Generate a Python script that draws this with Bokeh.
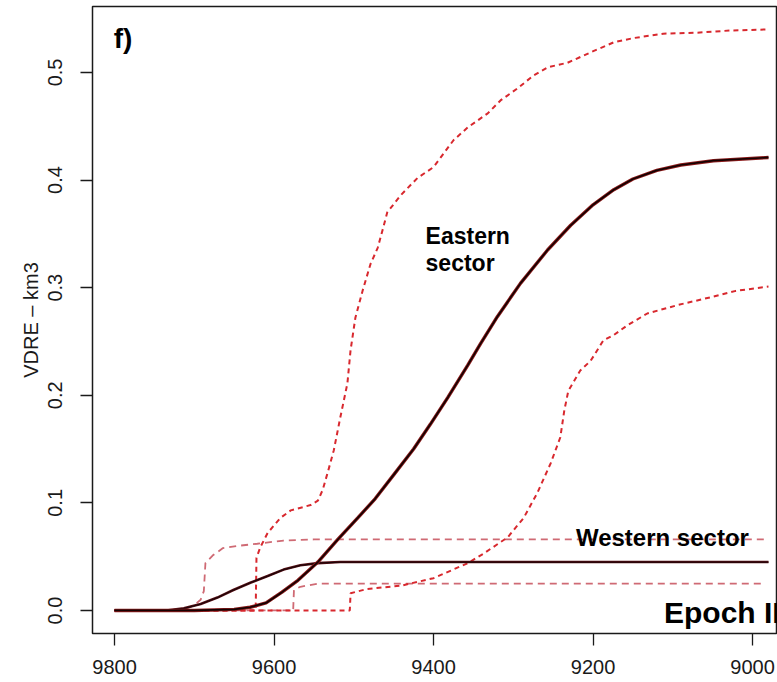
from bokeh.plotting import figure
from bokeh.models import Range1d, FixedTicker, Label, PrintfTickFormatter
from bokeh.embed import file_html
from bokeh.resources import INLINE

# ---- data ----
x_ticks = [9800, 9600, 9400, 9200, 9000]
y_ticks = [0.0, 0.1, 0.2, 0.3, 0.4, 0.5]

east_med_x = [9800, 9700, 9650, 9630, 9610, 9590, 9570, 9545, 9520, 9495, 9473, 9450,
              9425, 9404, 9382, 9357, 9341, 9320, 9291, 9257, 9228, 9200, 9174, 9150,
              9120, 9090, 9049, 8980]
east_med_y = [0.0, 0.0, 0.001, 0.003, 0.007, 0.017, 0.028, 0.045, 0.066, 0.086, 0.104, 0.126,
              0.150, 0.173, 0.198, 0.228, 0.248, 0.273, 0.304, 0.335, 0.358, 0.377, 0.391, 0.401,
              0.409, 0.414, 0.418, 0.421]

east_up_x = [9800, 9623, 9622, 9617, 9608, 9592, 9579, 9554, 9545, 9539, 9532, 9525, 9517,
             9508, 9504, 9498, 9489, 9479, 9470, 9463, 9458, 9441, 9420, 9400, 9375, 9357,
             9332, 9316, 9295, 9275, 9256, 9232, 9199, 9174, 9149, 9112, 9069, 9028, 8980]
east_up_y = [0.0, 0.0, 0.049, 0.059, 0.072, 0.086, 0.093, 0.098, 0.102, 0.112, 0.130, 0.149, 0.179,
             0.211, 0.242, 0.272, 0.297, 0.322, 0.337, 0.356, 0.370, 0.386, 0.402, 0.412, 0.437, 0.449,
             0.462, 0.474, 0.485, 0.497, 0.505, 0.509, 0.520, 0.528, 0.532, 0.536, 0.537, 0.539, 0.540]

east_lo_x = [9800, 9505, 9504, 9483, 9441, 9400, 9357, 9337, 9307, 9287, 9270, 9253, 9241,
             9236, 9231, 9216, 9203, 9187, 9174, 9157, 9132, 9093, 9053, 9021, 8980]
east_lo_y = [0.0, 0.0, 0.016, 0.020, 0.023, 0.030, 0.044, 0.053, 0.068, 0.086, 0.109, 0.137, 0.161,
             0.186, 0.204, 0.223, 0.232, 0.251, 0.256, 0.265, 0.276, 0.284, 0.291, 0.297, 0.301]

west_med_x = [9800, 9735, 9713, 9692, 9671, 9651, 9629, 9608, 9588, 9567, 9545, 9517, 8980]
west_med_y = [0.0, 0.0, 0.002, 0.006, 0.012, 0.019, 0.026, 0.032, 0.038, 0.042, 0.044, 0.045, 0.045]

west_up_x = [9800, 9715, 9700, 9692, 9688, 9686, 9677, 9664, 9646, 9621, 9588, 9550, 8980]
west_up_y = [0.0, 0.0, 0.005, 0.010, 0.018, 0.044, 0.051, 0.058, 0.060, 0.062, 0.065, 0.066, 0.066]

west_lo_x = [9800, 9576, 9575, 9567, 9545, 8985]
west_lo_y = [0.0, 0.0, 0.019, 0.022, 0.025, 0.025]

FONT = "Liberation Sans"

p = figure(width=777, height=680,
           x_range=Range1d(9827.6, 8968.7), y_range=Range1d(-0.0214, 0.5613),
           output_backend="svg", toolbar_location=None,
           min_border_left=92, min_border_right=0, min_border_top=6, min_border_bottom=47)
p.grid.visible = False
p.outline_line_color = "#1a1a1a"
p.outline_line_width = 1.5
p.background_fill_color = "white"
p.border_fill_color = "white"

# x axis
xa = p.xaxis[0]
xa.ticker = FixedTicker(ticks=x_ticks)
xa.axis_line_color = None
xa.minor_tick_line_color = None
xa.major_tick_in = 0
xa.major_tick_out = 12
xa.major_tick_line_color = "#1a1a1a"
xa.major_tick_line_width = 1.3
xa.major_label_text_font = FONT
xa.major_label_text_font_size = "20px"
xa.major_label_text_color = "#1a1a1a"
xa.major_label_standoff = 14

# y axis
ya = p.yaxis[0]
ya.ticker = FixedTicker(ticks=y_ticks)
ya.formatter = PrintfTickFormatter(format="%.1f")
ya.axis_line_color = None
ya.minor_tick_line_color = None
ya.major_tick_in = 0
ya.major_tick_out = 12
ya.major_tick_line_color = "#1a1a1a"
ya.major_tick_line_width = 1.3
ya.major_label_text_font = FONT
ya.major_label_text_font_size = "20px"
ya.major_label_text_color = "#1a1a1a"
ya.major_label_orientation = "vertical"
ya.major_label_standoff = 18
ya.axis_label = "VDRE \u2013 km3"
ya.axis_label_text_font = FONT
ya.axis_label_text_font_size = "20px"
ya.axis_label_text_font_style = "normal"
ya.axis_label_text_color = "#1a1a1a"
ya.axis_label_standoff = 4

# bounds
W_COL = "#cf6a74"
E_COL = "#d8282e"
p.line(west_up_x, west_up_y, line_color=W_COL, line_width=1.8, line_dash="7 5")
p.line(west_lo_x, west_lo_y, line_color=W_COL, line_width=1.8, line_dash="7 5")
p.line(east_up_x, east_up_y, line_color=E_COL, line_width=2, line_dash="5 4")
p.line(east_lo_x, east_lo_y, line_color=E_COL, line_width=2, line_dash="5 4")

# medians
p.line(west_med_x, west_med_y, line_color="#5a1016", line_width=2.6)
p.line(west_med_x, west_med_y, line_color="#1e0508", line_width=1.3)
p.line(east_med_x, east_med_y, line_color="#8a1a1a", line_width=3.4)
p.line(east_med_x, east_med_y, line_color="#140202", line_width=1.7)

# texts
def lab(x, y, t, size, align="left", baseline="alphabetic"):
    p.add_layout(Label(x=x, y=y, text=t, text_font=FONT, text_font_size=size,
                       text_font_style="bold", text_color="black",
                       text_align=align, text_baseline=baseline))

lab(9801, 0.5316, "f)", "28px")
lab(9410, 0.3476, "Eastern", "23px")
lab(9410, 0.3225, "sector", "23px")
lab(9113, 0.0679, "Western sector", "24px", align="center")
lab(9111, -0.0019, "Epoch II", "30px")

open("out.html", "w").write(file_html(p, INLINE))
